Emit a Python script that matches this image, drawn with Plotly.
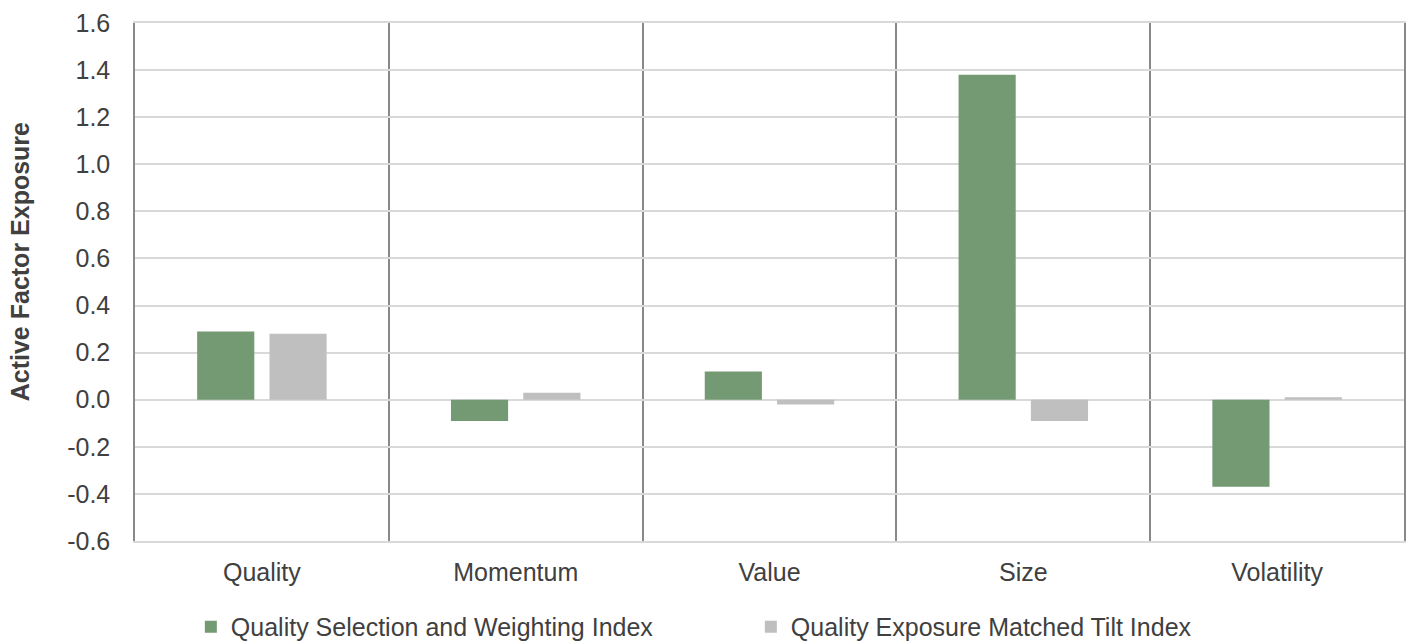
import plotly.graph_objects as go

# Factor exposures relative to the benchmark
factors = ["Quality", "Momentum", "Value", "Size", "Volatility"]
selection_weighting = [0.29, -0.09, 0.12, 1.38, -0.37]
exposure_matched_tilt = [0.28, 0.03, -0.02, -0.09, 0.01]

series_names = ["Quality Selection and Weighting Index", "Quality Exposure Matched Tilt Index"]
y_tick_values = [-0.6, -0.4, -0.2, 0.0, 0.2, 0.4, 0.6, 0.8, 1.0, 1.2, 1.4, 1.6]
y_tick_labels = ["-0.6", "-0.4", "-0.2", "0.0", "0.2", "0.4", "0.6", "0.8", "1.0", "1.2", "1.4", "1.6"]
y_title = "Active Factor Exposure"

GREEN = "#739a73"
GREY = "#bfbfbf"
DARK_LINE = "#898989"
LIGHT_LINE = "#d9d9d9"
TEXT = "#404040"
FONT = "Liberation Sans, Arial, sans-serif"
FS = 25

fig = go.Figure()
fig.add_trace(go.Bar(
    x=factors, y=selection_weighting, name=series_names[0],
    marker=dict(color=GREEN, line=dict(width=0)),
))
fig.add_trace(go.Bar(
    x=factors, y=exposure_matched_tilt, name=series_names[1],
    marker=dict(color=GREY, line=dict(width=0)),
))

fig.update_layout(
    width=1408, height=641,
    margin=dict(l=135, r=4, t=23, b=100, autoexpand=False),
    paper_bgcolor="white", plot_bgcolor="white",
    barmode="group", bargap=0.43, bargroupgap=0.21,
    font=dict(family=FONT, size=FS, color=TEXT),
    legend=dict(
        orientation="h", x=0.044, xanchor="left", y=-0.166, yanchor="middle",
        font=dict(size=FS, color=TEXT), itemwidth=30, traceorder="normal",
        entrywidth=515,
    ),
    showlegend=True,
)

# Vertical separators drawn at the category boundaries
fig.update_xaxes(
    range=[-0.5, 4.5],
    tickson="boundaries", ticks="", ticklen=0,
    showgrid=True, gridcolor=DARK_LINE, gridwidth=1.5,
    showline=True, linecolor=LIGHT_LINE, linewidth=1.5, mirror=True,
    tickfont=dict(size=FS, color=TEXT), ticklabelstandoff=8,
)

fig.update_yaxes(
    range=[-0.6, 1.6],
    tickmode="array", tickvals=y_tick_values, ticktext=y_tick_labels,
    showgrid=True, gridcolor=LIGHT_LINE, gridwidth=1.5,
    zeroline=True, zerolinecolor=LIGHT_LINE, zerolinewidth=1.5,
    showline=True, linecolor=DARK_LINE, linewidth=1.5, mirror=True,
    ticks="", tickfont=dict(size=FS, color=TEXT), ticklabelstandoff=18,
)

fig.add_annotation(
    text="<b>" + y_title + "</b>", textangle=-90,
    xref="paper", yref="paper", x=-(135 - 20) / 1269, y=0.54,
    xanchor="center", yanchor="middle", showarrow=False,
    font=dict(size=FS, color=TEXT),
)

fig.write_html("out.html")
